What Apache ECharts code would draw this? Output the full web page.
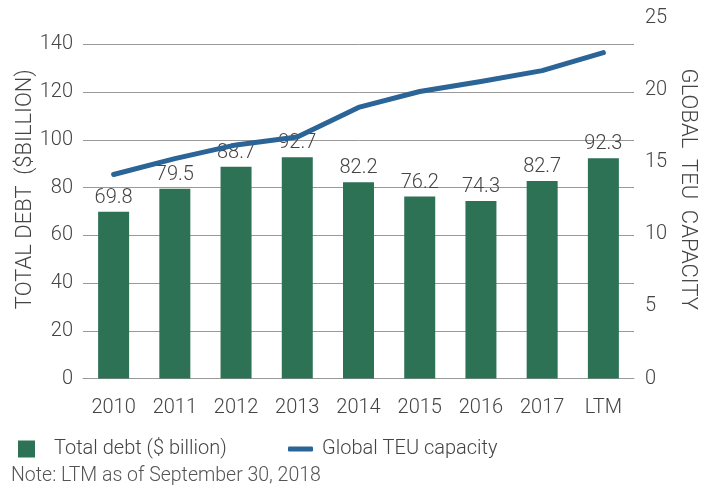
<!DOCTYPE html>
<html>
<head>
<meta charset="utf-8">
<script src="https://cdn.jsdelivr.net/npm/echarts@6/dist/echarts.min.js"></script>
<style>
  html, body { margin: 0; padding: 0; background: #fff; }
  #chart { width: 710px; height: 489px; }
</style>
</head>
<body>
<div id="chart"></div>
<script>
const years = ['2010', '2011', '2012', '2013', '2014', '2015', '2016', '2017', 'LTM'];
const totalDebt = [69.8, 79.5, 88.7, 92.7, 82.2, 76.2, 74.3, 82.7, 92.3];
const teuCapacity = [14.15, 15.25, 16.2, 16.75, 18.8, 19.9, 20.6, 21.35, 22.6];

const textColor = '#444';
const fontFamily = 'Roboto, "Noto Sans", sans-serif';

const chart = echarts.init(document.getElementById('chart'), null, { renderer: 'canvas' });

const option = {
    animation: false,
    textStyle: { fontFamily: fontFamily, fontWeight: 300, color: textColor },
    grid: { left: 83, right: 76, top: 18, bottom: 110.5, containLabel: false },
    legend: [
        {
            left: 13,
            top: 434,
            itemWidth: 17,
            itemHeight: 17,
            icon: 'rect',
            data: ['Total debt ($ billion)'],
            textStyle: { fontSize: 20, color: textColor, fontWeight: 300, padding: [0, 0, 0, 14] },
        },
        {
            left: 283,
            top: 434,
            itemWidth: 25,
            itemHeight: 5,
            icon: 'roundRect',
            data: ['Global TEU capacity'],
            textStyle: { fontSize: 20, color: textColor, fontWeight: 300, padding: [0, 0, 0, 4] },
        },
    ],
    xAxis: {
        type: 'category',
        data: years,
        axisTick: { show: false },
        axisLine: { lineStyle: { color: '#999', width: 1 } },
        axisLabel: { fontSize: 20, color: textColor, fontWeight: 300, margin: 19 },
    },
    yAxis: [
        {
            type: 'value',
            min: 0,
            max: 151,
            interval: 20,
            name: 'TOTAL DEBT  ($BILLION)',
            nameLocation: 'middle',
            nameRotate: 90,
            nameGap: 47,
            nameMoveOverlap: false,
            nameTextStyle: { fontSize: 22, color: textColor, fontWeight: 300, padding: [0, 0, 0, 18] },
            axisLine: { show: false },
            axisTick: { show: false },
            axisLabel: { fontSize: 20, color: textColor, fontWeight: 300, margin: 10, showMaxLabel: false },
            splitLine: { show: true, showMaxLine: false, lineStyle: { color: '#999', width: 1 } },
        },
        {
            type: 'value',
            min: 0,
            max: 25,
            interval: 5,
            name: 'GLOBAL  TEU  CAPACITY',
            nameLocation: 'middle',
            nameRotate: -90,
            nameGap: 42,
            nameMoveOverlap: false,
            nameTextStyle: { fontSize: 22, color: textColor, fontWeight: 300, padding: [0, 18, 0, 0] },
            axisLine: { show: false },
            axisTick: { show: false },
            axisLabel: { fontSize: 20, color: textColor, fontWeight: 300, margin: 11 },
            splitLine: { show: false },
        },
    ],
    series: [
        {
            name: 'Total debt ($ billion)',
            type: 'bar',
            yAxisIndex: 0,
            data: totalDebt,
            barWidth: 31,
            itemStyle: { color: '#2e7256' },
            label: {
                show: true,
                position: 'top',
                distance: 4,
                fontSize: 20,
                color: textColor,
                fontWeight: 300,
            },
        },
        {
            name: 'Global TEU capacity',
            type: 'line',
            yAxisIndex: 1,
            data: teuCapacity,
            symbol: 'none',
            z: 3,
            lineStyle: { color: '#2b6496', width: 5, cap: 'round', join: 'round' },
            itemStyle: { color: '#2b6496' },
        },
    ],
    graphic: [
        {
            type: 'text',
            left: 11,
            top: 466,
            style: {
                text: 'Note: LTM as of September 30, 2018',
                fontSize: 19.5,
                fontFamily: fontFamily,
                fontWeight: 300,
                fill: '#555',
            },
        },
    ],
};

chart.setOption(option);
</script>
</body>
</html>
